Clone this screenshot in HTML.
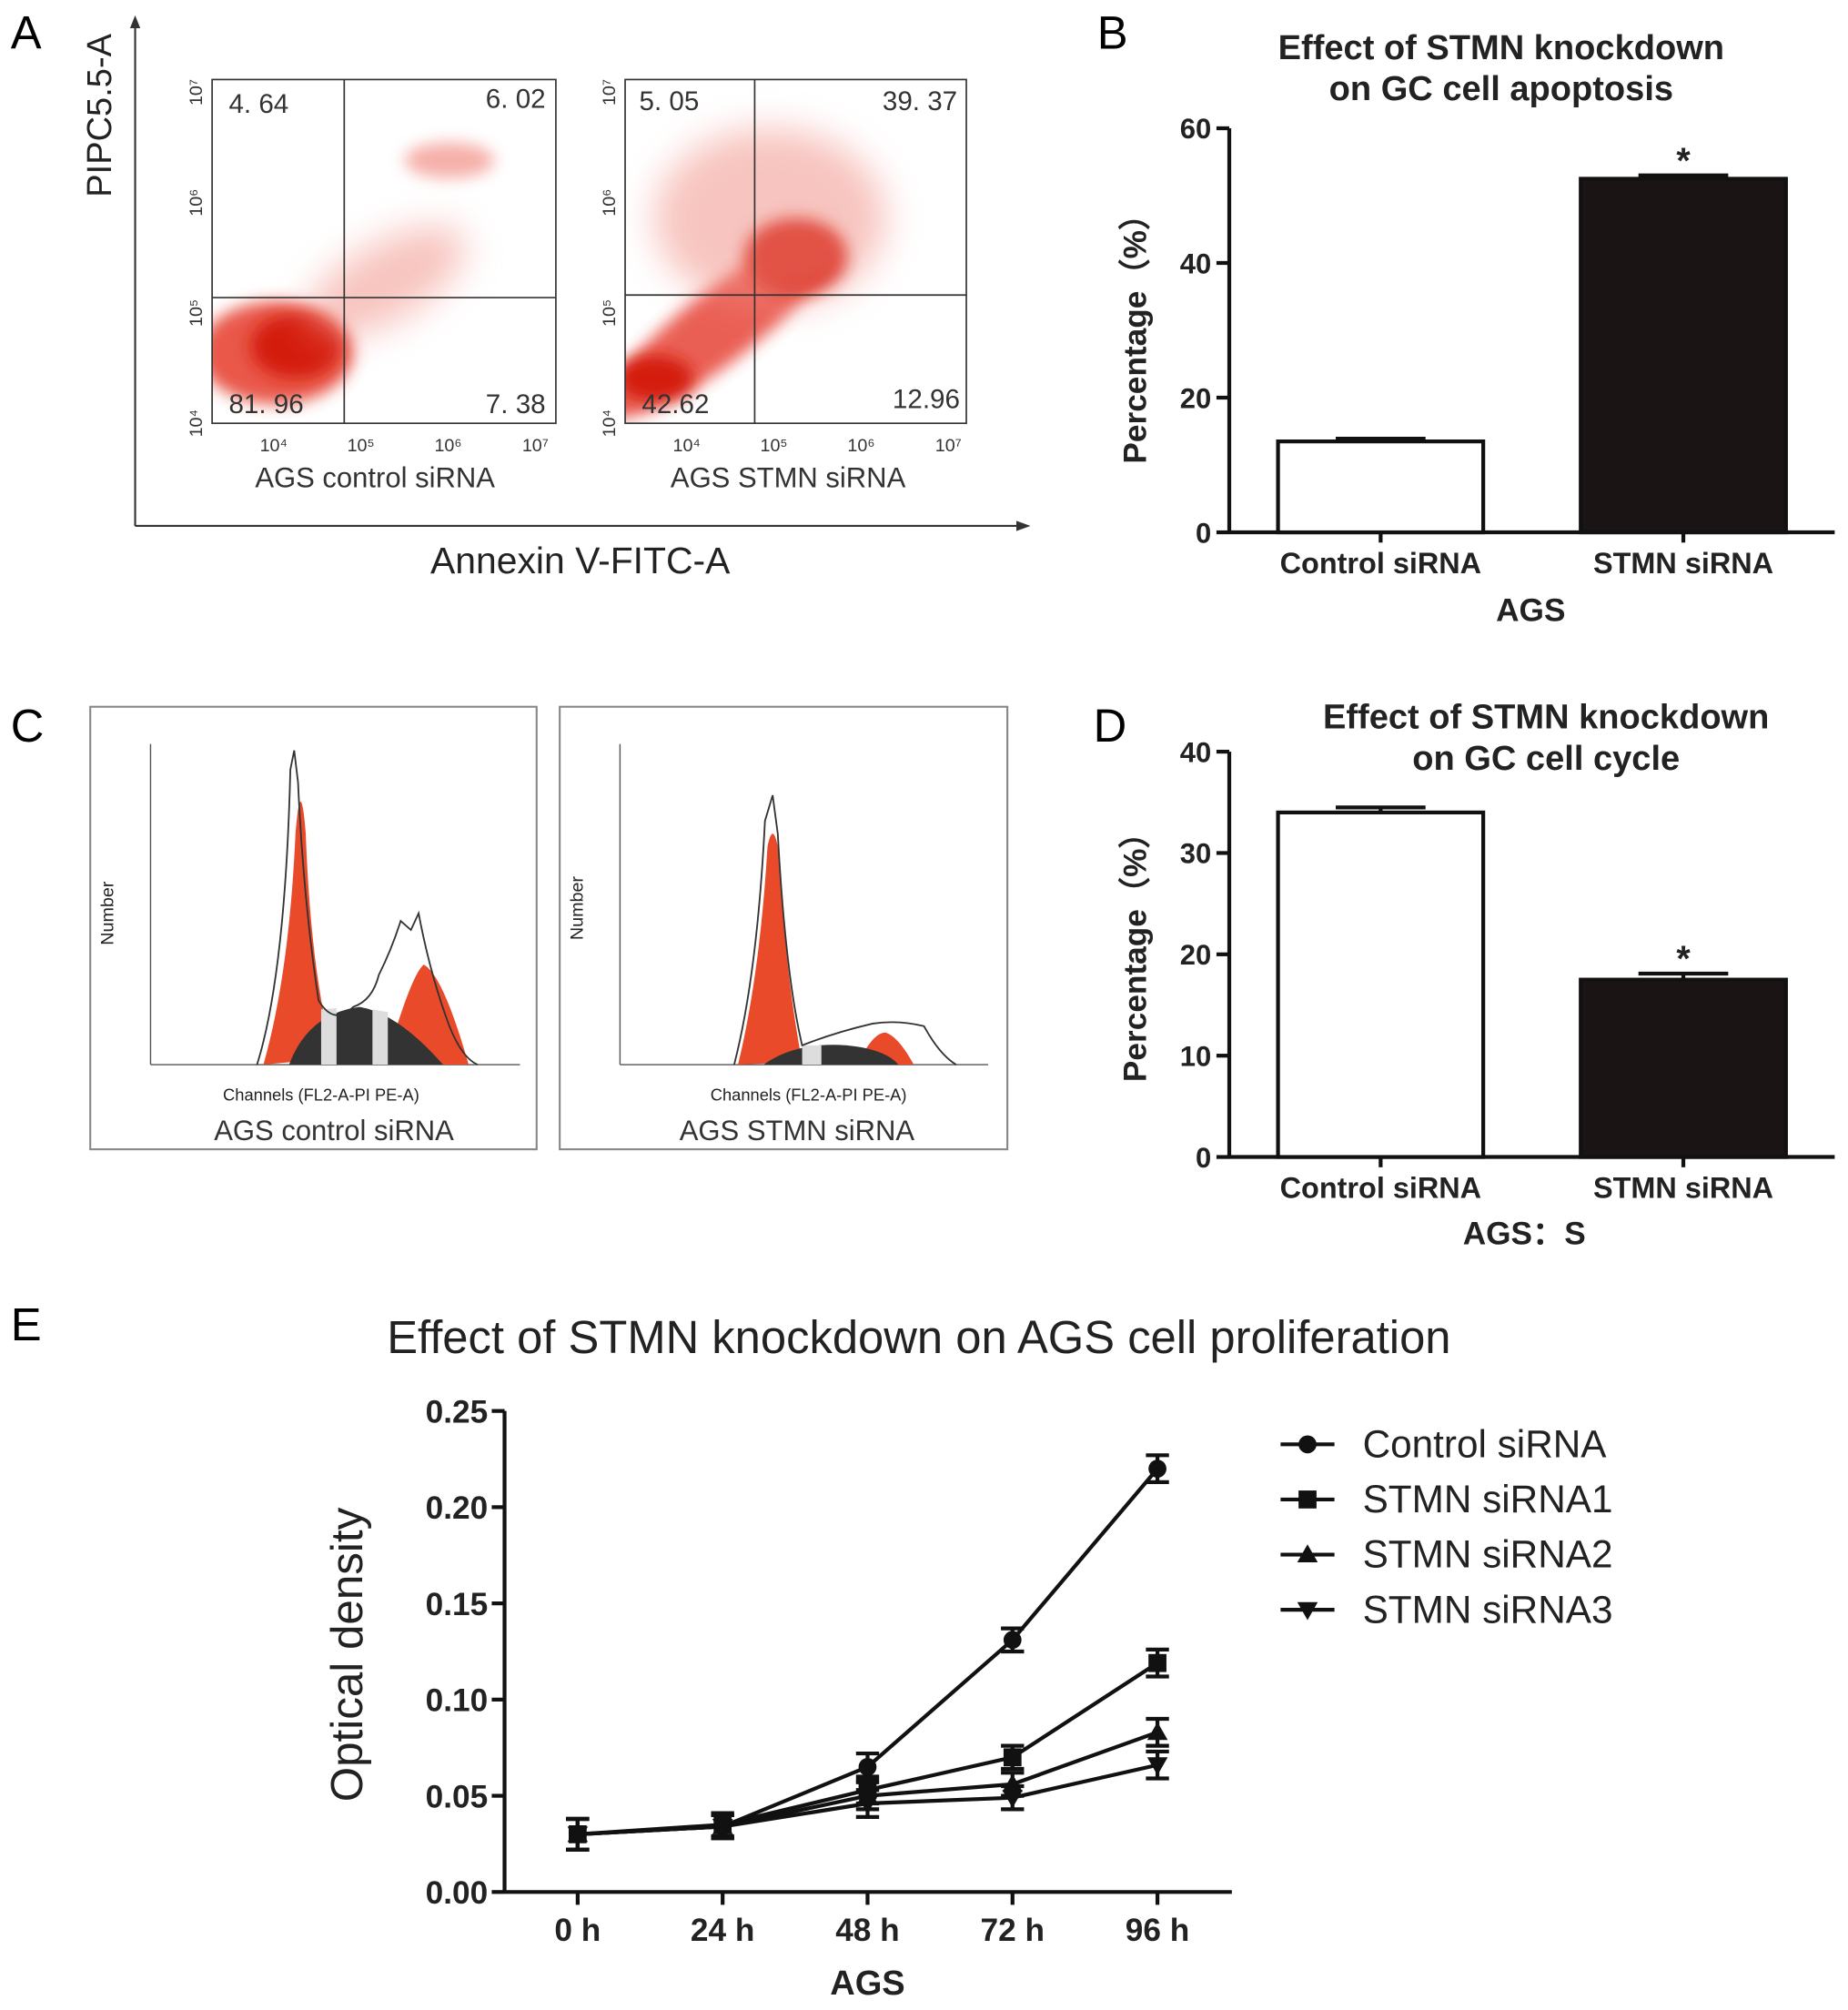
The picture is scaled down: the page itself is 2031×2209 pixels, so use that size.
<!DOCTYPE html>
<html><head><meta charset="utf-8"><style>
html,body{margin:0;padding:0;background:#fff;}
svg{display:block;font-family:"Liberation Sans",Arial,sans-serif;}
.b{font-weight:bold;}
</style></head><body>
<svg id="fig" width="2031" height="2209" viewBox="0 0 1440 1567" xmlns="http://www.w3.org/2000/svg">
<defs>
<filter id="blur" x="-50%" y="-50%" width="200%" height="200%"><feGaussianBlur stdDeviation="6"/></filter>
<filter id="blur2" x="-50%" y="-50%" width="200%" height="200%"><feGaussianBlur stdDeviation="14"/></filter>
<clipPath id="c1"><rect x="165" y="62" width="268" height="268"/></clipPath>
<clipPath id="c2"><rect x="487" y="62" width="266" height="268"/></clipPath>
</defs>

<text x="8" y="38" font-size="36">A</text>
<text x="855" y="38" font-size="36">B</text>
<text x="8" y="578" font-size="36">C</text>
<text x="852" y="578" font-size="36">D</text>
<text x="8" y="1045" font-size="36">E</text>

<g>
<line x1="105" y1="410" x2="105" y2="15" stroke="#333" stroke-width="1.5"/>
<path d="M101,22 L105,12 L109,22Z" fill="#333"/>
<line x1="105" y1="410" x2="798" y2="410" stroke="#333" stroke-width="1.5"/>
<path d="M792,406 L803,410 L792,414Z" fill="#333"/>
<text transform="translate(86,90) rotate(-90)" text-anchor="middle" font-size="27" fill="#222">PIPC5.5-A</text>
<text x="452" y="447" text-anchor="middle" font-size="29" fill="#222">Annexin V-FITC-A</text>

<g clip-path="url(#c1)">
<ellipse cx="215" cy="275" rx="60" ry="40" fill="#e53b2c" opacity="0.85" filter="url(#blur)"/>
<ellipse cx="230" cy="270" rx="35" ry="25" fill="#d41a10" filter="url(#blur)"/>
<ellipse cx="300" cy="220" rx="70" ry="30" fill="#f08a80" opacity="0.5" filter="url(#blur2)" transform="rotate(-30 300 220)"/>
<ellipse cx="350" cy="125" rx="35" ry="14" fill="#f07a70" opacity="0.6" filter="url(#blur)"/>
</g>
<rect x="165" y="62" width="268" height="268" fill="none" stroke="#333" stroke-width="1.2"/>
<line x1="268" y1="62" x2="268" y2="330" stroke="#333" stroke-width="1.2"/>
<line x1="165" y1="232" x2="433" y2="232" stroke="#333" stroke-width="1.2"/>
<text x="178" y="88" font-size="21" fill="#333">4. 64</text>
<text x="425" y="84" font-size="21" fill="#333" text-anchor="end">6. 02</text>
<text x="178" y="322" font-size="21" fill="#333">81. 96</text>
<text x="425" y="322" font-size="21" fill="#333" text-anchor="end">7. 38</text>
<text x="292" y="380" text-anchor="middle" font-size="22" fill="#333">AGS control siRNA</text>

<g clip-path="url(#c2)">
<ellipse cx="560" cy="255" rx="110" ry="28" fill="#e5382a" opacity="0.8" filter="url(#blur)" transform="rotate(-38 560 255)"/>
<ellipse cx="620" cy="200" rx="40" ry="30" fill="#d41a10" filter="url(#blur)"/>
<ellipse cx="600" cy="170" rx="90" ry="70" fill="#f08a80" opacity="0.5" filter="url(#blur2)"/>
<ellipse cx="510" cy="295" rx="30" ry="18" fill="#d41a10" filter="url(#blur)"/>
</g>
<rect x="487" y="62" width="266" height="268" fill="none" stroke="#333" stroke-width="1.2"/>
<line x1="588" y1="62" x2="588" y2="330" stroke="#333" stroke-width="1.2"/>
<line x1="487" y1="230" x2="753" y2="230" stroke="#333" stroke-width="1.2"/>
<text x="498" y="86" font-size="21" fill="#333">5. 05</text>
<text x="746" y="86" font-size="21" fill="#333" text-anchor="end">39. 37</text>
<text x="500" y="322" font-size="21" fill="#333">42.62</text>
<text x="748" y="318" font-size="21" fill="#333" text-anchor="end">12.96</text>
<text x="614" y="380" text-anchor="middle" font-size="22" fill="#333">AGS STMN siRNA</text>
<g font-size="14" fill="#333" id="aticks"></g>
</g>

<g>
<text x="1170" y="46" text-anchor="middle" font-size="27" class="b" fill="#222">Effect of STMN knockdown</text>
<text x="1170" y="78" text-anchor="middle" font-size="27" class="b" fill="#222">on GC cell apoptosis</text>
<text transform="translate(893,258) rotate(-90)" text-anchor="middle" font-size="25" class="b" fill="#222">Percentage（%）</text>
<g id="bchart"></g>
<text x="1193" y="484" text-anchor="middle" font-size="25" class="b" fill="#222">AGS</text>
</g>

<g>
<rect x="70" y="551" width="348" height="345" fill="none" stroke="#888" stroke-width="1.5"/>
<rect x="436" y="551" width="349" height="345" fill="none" stroke="#888" stroke-width="1.5"/>
<g id="hist1">
<line x1="117" y1="580" x2="117" y2="830" stroke="#555"/>
<line x1="117" y1="830" x2="405" y2="830" stroke="#555"/>
<path d="M205,830 Q225,760 230,650 Q234,600 238,650 Q242,760 260,825 Z" fill="#e84a2a"/>
<path d="M300,830 Q320,760 330,752 Q345,760 365,830 Z" fill="#e84a2a"/>
<path d="M225,830 Q240,790 280,785 Q310,790 345,830 Z" fill="#333"/>
<path d="M250,830 L250,787 L262,786 L262,830Z M290,830 L290,787 L302,789 L302,830Z" fill="#ddd"/>
<path d="M200,830 Q222,760 226,600 L229,585 L232,610 Q236,700 248,780 Q260,800 275,785 Q290,780 295,760 Q305,740 312,718 L320,725 L326,712 Q335,760 350,800 Q360,825 372,830" fill="none" stroke="#333" stroke-width="1.3"/>
<text transform="translate(88,712) rotate(-90)" text-anchor="middle" font-size="14" fill="#222">Number</text>
<text x="250" y="858" text-anchor="middle" font-size="13" fill="#222">Channels (FL2-A-PI PE-A)</text>
</g>
<g id="hist2">
<line x1="483" y1="580" x2="483" y2="830" stroke="#555"/>
<line x1="483" y1="830" x2="770" y2="830" stroke="#555"/>
<path d="M575,830 Q592,760 598,660 Q602,640 606,660 Q612,760 625,828 Z" fill="#e84a2a"/>
<path d="M668,830 Q680,805 690,805 Q700,808 712,830 Z" fill="#e84a2a"/>
<path d="M595,830 Q620,812 660,815 Q690,818 700,830 Z" fill="#333"/>
<path d="M625,830 L625,815 L640,815 L640,830Z" fill="#ddd"/>
<path d="M572,830 Q590,760 596,640 L602,620 L606,650 Q612,760 625,815 Q650,805 680,798 Q700,795 720,800 Q732,822 745,830" fill="none" stroke="#333" stroke-width="1.3"/>
<text transform="translate(454,708) rotate(-90)" text-anchor="middle" font-size="14" fill="#222">Number</text>
<text x="630" y="858" text-anchor="middle" font-size="13" fill="#222">Channels (FL2-A-PI PE-A)</text>
</g>
<text x="260" y="889" text-anchor="middle" font-size="22" fill="#333">AGS control siRNA</text>
<text x="621" y="889" text-anchor="middle" font-size="22" fill="#333">AGS STMN siRNA</text>
</g>

<g>
<text x="1205" y="568" text-anchor="middle" font-size="27" class="b" fill="#222">Effect of STMN knockdown</text>
<text x="1205" y="600" text-anchor="middle" font-size="27" class="b" fill="#222">on GC cell cycle</text>
<text transform="translate(893,740) rotate(-90)" text-anchor="middle" font-size="25" class="b" fill="#222">Percentage（%）</text>
<g id="dchart"></g>
<text x="1188" y="970" text-anchor="middle" font-size="25" class="b" fill="#222">AGS：S</text>
</g>

<g>
<text x="716" y="1055" text-anchor="middle" font-size="36" fill="#222">Effect of STMN knockdown on AGS cell proliferation</text>
<text transform="translate(282,1290) rotate(-90)" text-anchor="middle" font-size="35" fill="#222">Optical density</text>
<text x="676" y="1555" text-anchor="middle" font-size="27" class="b" fill="#222">AGS</text>
<g id="echart"></g>
<g id="elegend"></g>
</g>
</svg>
<script>
var NS="http://www.w3.org/2000/svg";
function mk(p,t,a){var e=document.createElementNS(NS,t);for(var k in a)e.setAttribute(k,a[k]);p.appendChild(e);return e;}

var bCats=["Control siRNA","STMN siRNA"];
var bVals=[13.5,52.5];
var bErr=[0.4,0.5];
var bTicks=[0,20,40,60];
var dCats=["Control siRNA","STMN siRNA"];
var dVals=[34,17.5];
var dErr=[0.5,0.6];
var dTicks=[0,10,20,30,40];
var eCats=["0 h","24 h","48 h","72 h","96 h"];
var eSeries=["Control siRNA","STMN siRNA1","STMN siRNA2","STMN siRNA3"];
var eControl=[0.030,0.034,0.065,0.131,0.220];
var eSi1=[0.030,0.035,0.053,0.070,0.119];
var eSi2=[0.030,0.034,0.050,0.056,0.083];
var eSi3=[0.030,0.034,0.046,0.049,0.066];
var eErr=[0.008,0.006,0.007,0.006,0.007];
var eTicks=["0.00","0.05","0.10","0.15","0.20","0.25"];

function barChart(gid,cats,vals,errs,ticks,y0,y1,maxV){
  var g=document.getElementById(gid);
  var X0=958,X1=1430;
  function y(v){return y0-(v/maxV)*(y0-y1);}
  mk(g,'line',{x1:X0,y1:y(0),x2:X0,y2:y1,stroke:'#111','stroke-width':3});
  mk(g,'line',{x1:X0,y1:y(0),x2:X1,y2:y(0),stroke:'#111','stroke-width':3});
  ticks.forEach(function(t){
    mk(g,'line',{x1:X0-10,y1:y(t),x2:X0,y2:y(t),stroke:'#111','stroke-width':3});
    var tx=mk(g,'text',{x:X0-14,y:y(t)+8,'text-anchor':'end','font-size':22,'font-weight':'bold',fill:'#222'});tx.textContent=t;
    
    
  });
  var lefts=[996,1232],w=160;
  cats.forEach(function(c,i){
    var cx=lefts[i]+w/2;
    var top=y(vals[i]);
    var r=mk(g,'rect',{x:lefts[i],y:top,width:w,height:y(0)-top,fill:i?'#1a1414':'#fff',stroke:'#111','stroke-width':3});
    
    
    var et=y(vals[i]+errs[i]);
    mk(g,'line',{x1:cx,y1:top,x2:cx,y2:et,stroke:'#111','stroke-width':3});
    mk(g,'line',{x1:cx-35,y1:et,x2:cx+35,y2:et,stroke:'#111','stroke-width':3});
    mk(g,'line',{x1:cx,y1:y(0),x2:cx,y2:y(0)+8,stroke:'#111','stroke-width':3});
    var tl=mk(g,'text',{x:cx,y:y(0)+32,'text-anchor':'middle','font-size':23,'font-weight':'bold',fill:'#222'});tl.textContent=c;
    
    
    if(i==1){var s=mk(g,'text',{x:cx,y:et-2,'text-anchor':'middle','font-size':28,'font-weight':'bold',fill:'#222'});s.textContent='*';
      
      }
  });
}
barChart('bchart',bCats,bVals,bErr,bTicks,415,100,60);
barChart('dchart',dCats,dVals,dErr,dTicks,902,586,40);

(function(){
  var g=document.getElementById('echart');
  var X0=393,X1=960,Y0=1475,Y1=1100;
  function y(v){return Y0-(v/0.25)*(Y0-Y1);}
  function x(i){return 450+i*113;}
  mk(g,'line',{x1:X0,y1:Y0,x2:X0,y2:Y1,stroke:'#111','stroke-width':3});
  mk(g,'line',{x1:X0,y1:Y0,x2:X1,y2:Y0,stroke:'#111','stroke-width':3});
  eTicks.forEach(function(t){
    var v=parseFloat(t);
    mk(g,'line',{x1:X0-10,y1:y(v),x2:X0,y2:y(v),stroke:'#111','stroke-width':3});
    var tx=mk(g,'text',{x:X0-13,y:y(v)+9,'text-anchor':'end','font-size':25,'font-weight':'bold',fill:'#222'});tx.textContent=t;
    
    
  });
  eCats.forEach(function(c,i){
    mk(g,'line',{x1:x(i),y1:Y0,x2:x(i),y2:Y0+10,stroke:'#111','stroke-width':3});
    var tx=mk(g,'text',{x:x(i),y:Y0+38,'text-anchor':'middle','font-size':25,'font-weight':'bold',fill:'#222'});tx.textContent=c;
    
    
  });
  var data=[eControl,eSi1,eSi2,eSi3];
  function marker(p,shape,cx,cy){
    if(shape==0)return mk(p,'circle',{cx:cx,cy:cy,r:7,fill:'#111'});
    if(shape==1)return mk(p,'rect',{x:cx-7,y:cy-7,width:14,height:14,fill:'#111'});
    if(shape==2)return mk(p,'path',{d:'M'+cx+','+(cy-8)+' L'+(cx+8)+','+(cy+6)+' L'+(cx-8)+','+(cy+6)+'Z',fill:'#111'});
    return mk(p,'path',{d:'M'+cx+','+(cy+8)+' L'+(cx+8)+','+(cy-6)+' L'+(cx-8)+','+(cy-6)+'Z',fill:'#111'});
  }
  data.forEach(function(s,k){
    var sg=mk(g,'g',{});
    
    
    var d=s.map(function(v,i){return (i?'L':'M')+x(i)+','+y(v);}).join(' ');
    mk(sg,'path',{d:d,fill:'none',stroke:'#111','stroke-width':3});
    s.forEach(function(v,i){
      var a=y(v+eErr[i]),b=y(v-eErr[i]);
      mk(sg,'line',{x1:x(i),y1:a,x2:x(i),y2:b,stroke:'#111','stroke-width':3});
      mk(sg,'line',{x1:x(i)-9,y1:a,x2:x(i)+9,y2:a,stroke:'#111','stroke-width':3});
      mk(sg,'line',{x1:x(i)-9,y1:b,x2:x(i)+9,y2:b,stroke:'#111','stroke-width':3});
      var m=marker(sg,k,x(i),y(v));
      
      
    });
  });
  var lg=document.getElementById('elegend');
  eSeries.forEach(function(n,k){
    var ly=1126+k*43;
    var e=mk(lg,'g',{});
    
    
    mk(e,'line',{x1:998,y1:ly,x2:1040,y2:ly,stroke:'#111','stroke-width':3});
    marker(e,k,1019,ly);
    var t=mk(e,'text',{x:1062,y:ly+10,'font-size':30,fill:'#222'});t.textContent=n;
  });
})();

(function(){
  var g=document.getElementById('aticks');
  var plots=[[165,433],[487,753]];
  plots.forEach(function(p){
    for(var i=0;i<4;i++){
      var sup=String.fromCharCode([8308,8309,8310,8311][i]);
      var yy=330-i*86;
      var t=mk(g,'text',{transform:'translate('+(p[0]-8)+','+yy+') rotate(-90)','text-anchor':'middle'});
      t.textContent='10'+sup;
      var xx=p[0]+48+i*68;
      var t2=mk(g,'text',{x:xx,y:352,'text-anchor':'middle'});t2.textContent='10'+sup;
    }
  });
})();
</script>
</body></html>
